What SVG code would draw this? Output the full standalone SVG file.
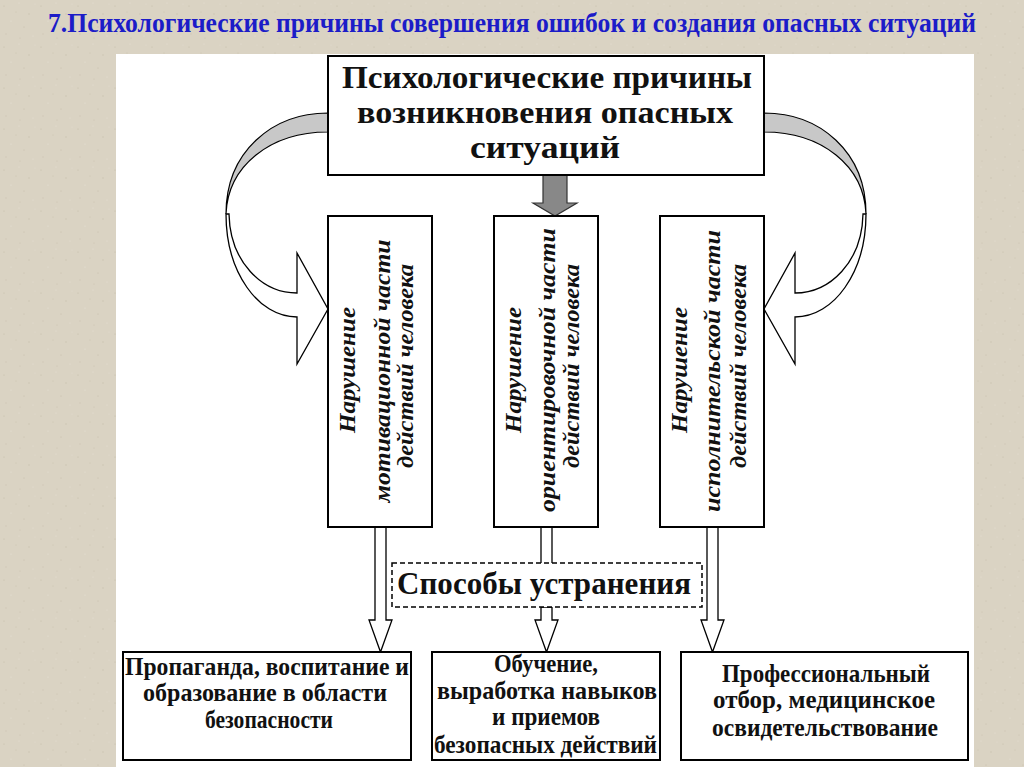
<svg xmlns="http://www.w3.org/2000/svg" width="1024" height="767" viewBox="0 0 1024 767">
<defs>
<pattern id="speck" width="37" height="41" patternUnits="userSpaceOnUse">
<rect width="37" height="41" fill="#dad3c3"/>
<circle cx="4" cy="6" r="0.6" fill="#c6bdaa"/>
<circle cx="19" cy="3" r="0.6" fill="#e6e0d4"/>
<circle cx="29" cy="14" r="0.7" fill="#cbc3b1"/>
<circle cx="11" cy="21" r="0.6" fill="#e8e2d7"/>
<circle cx="24" cy="27" r="0.5" fill="#c3baa7"/>
<circle cx="6" cy="34" r="0.7" fill="#cfc7b6"/>
<circle cx="33" cy="36" r="0.6" fill="#e5dfd3"/>
<circle cx="16" cy="12" r="0.5" fill="#c9c0ae"/>
<circle cx="35" cy="4" r="0.5" fill="#e4ded1"/>
<circle cx="20" cy="38" r="0.5" fill="#c8bfad"/>
</pattern>
<style>
.box{fill:#fff;stroke:#000;stroke-width:2}
.main{font-family:"Liberation Serif","Times New Roman",serif;font-weight:bold;font-size:31px;fill:#111}
.vert{font-family:"Liberation Serif","Times New Roman",serif;font-weight:bold;font-style:italic;font-size:23px;fill:#111}
.bot{font-family:"Liberation Serif","Times New Roman",serif;font-weight:bold;font-size:25px;fill:#111}
.hollow{fill:#fff;stroke:#000;stroke-width:1.3}
</style>
</defs>
<rect width="1024" height="767" fill="url(#speck)"/>
<rect x="116" y="54" width="858" height="713" fill="#fff"/>
<text transform="translate(48,32) scale(1,1.18)" x="0" y="0" font-family="Liberation Serif, Times New Roman, serif" font-weight="bold" font-size="23" fill="#1c1cc8" textLength="928" lengthAdjust="spacingAndGlyphs">7.Психологические причины совершения ошибок и создания опасных ситуаций</text>

<g id="connectors">
<path d="M328,113 C272,113 226,152 226,214 C228,166 270,132 328,132 Z" fill="#c8c8c8" stroke="#000" stroke-width="1.2"/>
<path class="hollow" d="M226,214 C226,272 258,317 297,317 L297,364 L328,309 L297,253 L297,293 C262,293 230,262 229,214 Z"/>
<path d="M764,113 C820,113 866,152 866,214 C864,166 822,132 764,132 Z" fill="#c8c8c8" stroke="#000" stroke-width="1.2"/>
<path class="hollow" d="M866,214 C866,272 834,317 795,317 L795,364 L764,309 L795,253 L795,293 C830,293 862,262 863,214 Z"/>
<path d="M543,175 L567,175 L567,203 L577,203 L555,216 L533,203 L543,203 Z" fill="#888" stroke="#333" stroke-width="1.2"/>
<path class="hollow" d="M375,527 L386,527 L386,620 L392,620 L380.5,652 L369,620 L375,620 Z"/>
<path class="hollow" d="M541,527 L552,527 L552,563 M541,563 L541,527"/>
<path class="hollow" d="M541,607 L552,607 L552,620 L558,620 L546.5,652 L535,620 L541,620 Z"/>
<path class="hollow" d="M707,527 L718,527 L718,620 L724,620 L712.5,652 L701,620 L707,620 Z"/>
</g>

<g id="top">
<rect class="box" x="328" y="56" width="436" height="119"/>
<text class="main" x="342" y="88" textLength="410" lengthAdjust="spacingAndGlyphs">Психологические причины</text>
<text class="main" x="357" y="123" textLength="376" lengthAdjust="spacingAndGlyphs">возникновения опасных</text>
<text class="main" x="470" y="158" textLength="150" lengthAdjust="spacingAndGlyphs">ситуаций</text>
</g>

<g id="motiv">
<rect class="box" x="328" y="216" width="104" height="311"/>
<text class="vert" transform="translate(355,370) rotate(-90)" text-anchor="middle" textLength="126" lengthAdjust="spacingAndGlyphs">Нарушение</text>
<text class="vert" transform="translate(390,371) rotate(-90)" text-anchor="middle" textLength="263" lengthAdjust="spacingAndGlyphs">мотивационной части</text>
<text class="vert" transform="translate(413,366) rotate(-90)" text-anchor="middle" textLength="204" lengthAdjust="spacingAndGlyphs">действий человека</text>
</g>

<g id="orient">
<rect class="box" x="494" y="216" width="104" height="311"/>
<text class="vert" transform="translate(521,370) rotate(-90)" text-anchor="middle" textLength="126" lengthAdjust="spacingAndGlyphs">Нарушение</text>
<text class="vert" transform="translate(555,370) rotate(-90)" text-anchor="middle" textLength="284" lengthAdjust="spacingAndGlyphs">ориентировочной части</text>
<text class="vert" transform="translate(579,366) rotate(-90)" text-anchor="middle" textLength="204" lengthAdjust="spacingAndGlyphs">действий человека</text>
</g>

<g id="ispoln">
<rect class="box" x="660" y="216" width="104" height="311"/>
<text class="vert" transform="translate(687,370) rotate(-90)" text-anchor="middle" textLength="126" lengthAdjust="spacingAndGlyphs">Нарушение</text>
<text class="vert" transform="translate(720,371) rotate(-90)" text-anchor="middle" textLength="282" lengthAdjust="spacingAndGlyphs">исполнительской части</text>
<text class="vert" transform="translate(746,366) rotate(-90)" text-anchor="middle" textLength="204" lengthAdjust="spacingAndGlyphs">действий человека</text>
</g>

<g id="sposoby">
<rect x="392" y="563" width="310" height="44" fill="#fff" stroke="#000" stroke-width="1.5" stroke-dasharray="5,3"/>
<text class="main" x="397" y="594" font-size="26" textLength="294" lengthAdjust="spacing">Способы  устранения</text>
</g>

<g id="propaganda">
<rect class="box" x="123" y="652" width="288" height="108"/>
<text class="bot" x="125" y="675" textLength="284" lengthAdjust="spacingAndGlyphs">Пропаганда, воспитание и</text>
<text class="bot" x="143" y="701" textLength="244" lengthAdjust="spacingAndGlyphs">образование в  области</text>
<text class="bot" x="205" y="728" textLength="128" lengthAdjust="spacingAndGlyphs">безопасности</text>
</g>

<g id="obuchenie">
<rect class="box" x="432" y="652" width="228" height="108"/>
<text class="bot" x="494" y="672" textLength="104" lengthAdjust="spacingAndGlyphs">Обучение,</text>
<text class="bot" x="437" y="699" textLength="220" lengthAdjust="spacingAndGlyphs">выработка навыков</text>
<text class="bot" x="492" y="725" textLength="108" lengthAdjust="spacingAndGlyphs">и приемов</text>
<text class="bot" x="434" y="753" textLength="223" lengthAdjust="spacingAndGlyphs">безопасных действий</text>
</g>

<g id="otbor">
<rect class="box" x="681" y="652" width="287" height="108"/>
<text class="bot" x="722" y="682" textLength="208" lengthAdjust="spacingAndGlyphs">Профессиональный</text>
<text class="bot" x="713" y="708" textLength="222" lengthAdjust="spacingAndGlyphs">отбор, медицинское</text>
<text class="bot" x="712" y="736" textLength="226" lengthAdjust="spacingAndGlyphs">освидетельствование</text>
</g>
</svg>
